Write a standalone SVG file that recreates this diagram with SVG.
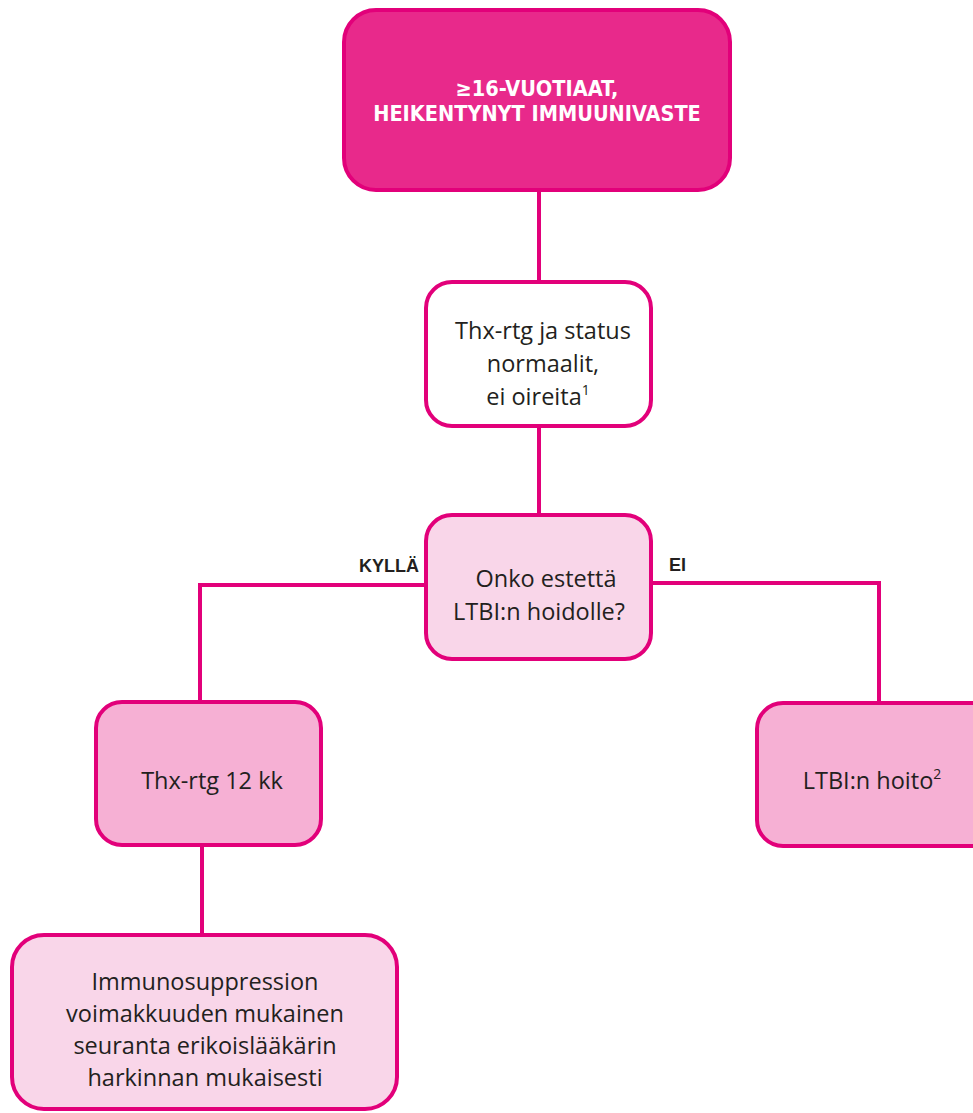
<svg xmlns="http://www.w3.org/2000/svg" width="973" height="1113" viewBox="0 0 973 1113">
  <style>
    .box { stroke: #E2007A; stroke-width: 4; }
    .top { fill: #E8298B; }
    .white { fill: #FFFFFF; }
    .light { fill: #F9D6E9; }
    .mid { fill: #F6B0D4; }
    .line { fill: none; stroke: #E2007A; stroke-width: 4; }
    .t { font-family: "Open Sans", "Noto Sans", sans-serif; font-size: 23.5px; fill: #231F20; text-anchor: middle; }
    .head { font-family: "Liberation Sans Narrow", "DejaVu Sans Condensed", "Liberation Sans", sans-serif; font-weight: bold; font-size: 21.5px; fill: #FFFFFF; text-anchor: middle; }
    .lbl { font-family: "Liberation Sans", Arial, sans-serif; font-weight: bold; font-size: 18px; fill: #231F20; }
    .sup { font-size: 14px; }
  </style>

  <g id="connectors">
    <path class="line" d="M539 191 V281"/>
    <path class="line" d="M539 427 V514"/>
    <path class="line" d="M425 585 H200 V701"/>
    <path class="line" d="M652 583 H879 V702"/>
    <path class="line" d="M202 846 V934"/>
  </g>

  <g id="start">
    <rect class="box top" x="344" y="10" width="386" height="180" rx="32"/>
    <text class="head" x="537" y="96">≥16-VUOTIAAT,</text>
    <text class="head" x="537" y="121">HEIKENTYNYT IMMUUNIVASTE</text>
  </g>

  <g id="status">
    <rect class="box white" x="426" y="282" width="225" height="144" rx="26"/>
    <text class="t" x="543" y="339">Thx-rtg ja status</text>
    <text class="t" x="543" y="372">normaalit,</text>
    <text class="t" x="538" y="405">ei oireita<tspan class="sup" dy="-10">1</tspan></text>
  </g>

  <g id="question">
    <rect class="box light" x="426" y="515" width="225" height="144" rx="26"/>
    <text class="t" x="546" y="587">Onko estettä</text>
    <text class="t" x="539" y="620">LTBI:n hoidolle?</text>
  </g>

  <g id="labels">
    <text class="lbl" x="359" y="572">KYLLÄ</text>
    <text class="lbl" x="669" y="571">EI</text>
  </g>

  <g id="followup">
    <rect class="box mid" x="96" y="702" width="225" height="143" rx="26"/>
    <text class="t" x="212" y="789">Thx-rtg 12 kk</text>
  </g>

  <g id="treatment">
    <rect class="box mid" x="757" y="703" width="240" height="143" rx="26"/>
    <text class="t" x="872" y="789">LTBI:n hoito<tspan class="sup" dy="-10">2</tspan></text>
  </g>

  <g id="monitoring">
    <rect class="box light" x="12" y="935" width="385" height="174" rx="32"/>
    <text class="t" x="205" y="990">Immunosuppression</text>
    <text class="t" x="205" y="1022">voimakkuuden mukainen</text>
    <text class="t" x="205" y="1054">seuranta erikoislääkärin</text>
    <text class="t" x="205" y="1086">harkinnan mukaisesti</text>
  </g>
</svg>
